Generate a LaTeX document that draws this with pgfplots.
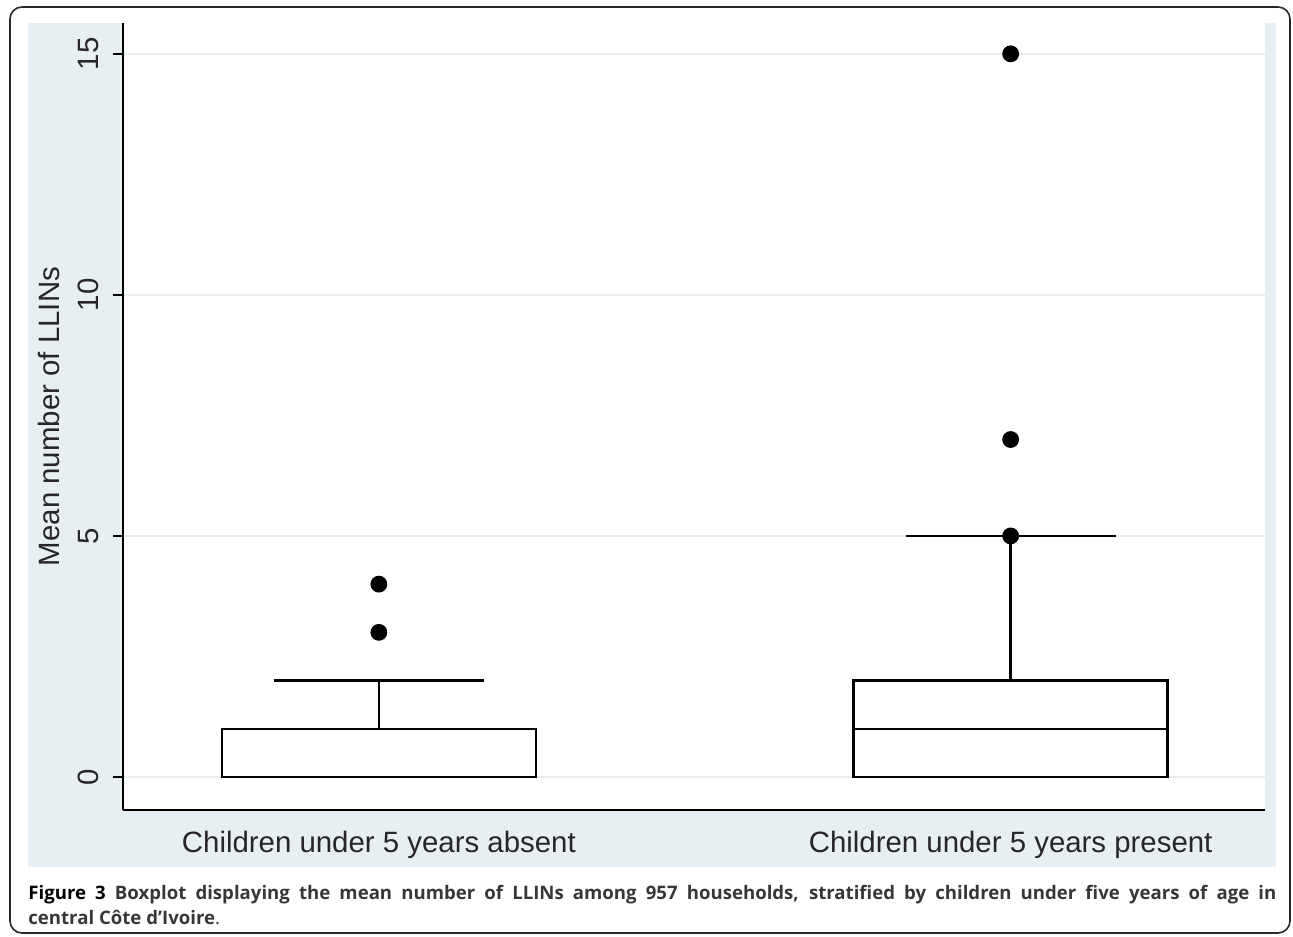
\documentclass[border=0pt]{standalone}
\usepackage{fontspec}
\setmainfont{Liberation Sans}
\newfontfamily\capfont{Open Sans}
\usepackage{pgfplots}
\pgfplotsset{compat=1.18}
\usepgfplotslibrary{statistics}

\definecolor{panelbg}{RGB}{232,239,242}
\definecolor{gridc}{RGB}{232,238,240}
\definecolor{capgray}{RGB}{55,55,55}
\definecolor{framec}{RGB}{40,40,40}

\begin{document}
\begin{tikzpicture}
\useasboundingbox (0,0) rectangle (646.5pt,468pt);
% outer frame and panel
\draw[framec, line width=0.8pt, rounded corners=6pt] (5pt,1.5pt) rectangle (645pt,464.5pt);
\fill[panelbg] (14pt,34.5pt) rectangle (638pt,456.5pt);

\begin{axis}[
    at={(61.5pt,63pt)}, anchor=south west,
    scale only axis,
    width=571pt, height=393.5pt,
    xmin=0.595, xmax=2.4026,
    ymin=-0.685, ymax=15.64,
    axis background/.style={fill=white},
    axis x line*=bottom, axis y line*=left,
    axis line style={-, black, line width=1pt},
    xtick={1,2},
    xticklabels={Children under 5 years absent, Children under 5 years present},
    xtick style={draw=none},
    ytick={0,5,10,15},
    /pgf/number format/assume math mode=true,
    tick align=outside,
    major tick length=5pt,
    ytick style={black, line width=0.8pt},
    ymajorgrids,
    grid style={gridc, line width=1pt},
    ticklabel style={font=\fontsize{14.7pt}{17pt}\selectfont, text=black!85},
    xticklabel style={anchor=base, yshift=-16.25pt, inner sep=0pt},
    yticklabel style={rotate=90, anchor=south, inner xsep=0pt, inner ysep=7pt},
    ylabel={Mean number of LLINs},
    ylabel style={at={(axis description cs:-0.0648,0.5)}, anchor=center,
                  font=\fontsize{14.7pt}{17pt}\selectfont, text=black!85},
    boxplot/draw direction=y,
    clip=false,
]

% households without children under 5
\addplot[black, line width=1.2pt, mark=*, mark size=3.6pt,
    mark options={fill=black, solid},
    boxplot prepared={draw position=1, median=0,
        lower quartile=0, upper quartile=1,
        lower whisker=0, upper whisker=2,
        box extend=0.497, whisker extend=0.332}]
    coordinates {(0,3) (0,4)};

% households with children under 5
\addplot[black, line width=1.2pt, mark=*, mark size=3.6pt,
    mark options={fill=black, solid},
    boxplot prepared={draw position=2, median=1,
        lower quartile=0, upper quartile=2,
        lower whisker=0, upper whisker=5,
        box extend=0.497, whisker extend=0.332}]
    coordinates {(0,5) (0,7) (0,15)};

\end{axis}

\node[anchor=base west, inner sep=0pt] at (14pt,25.5pt) {\parbox[t]{624pt}{%
  \capfont\fontsize{9.3pt}{12.5pt}\selectfont\bfseries\color{capgray}%
  {\color{black}Figure 3} Boxplot displaying the mean number of LLINs among 957 households, stratified by children under five years of age in\linebreak
  central Côte d’Ivoire\mdseries.}};
\end{tikzpicture}
\end{document}
